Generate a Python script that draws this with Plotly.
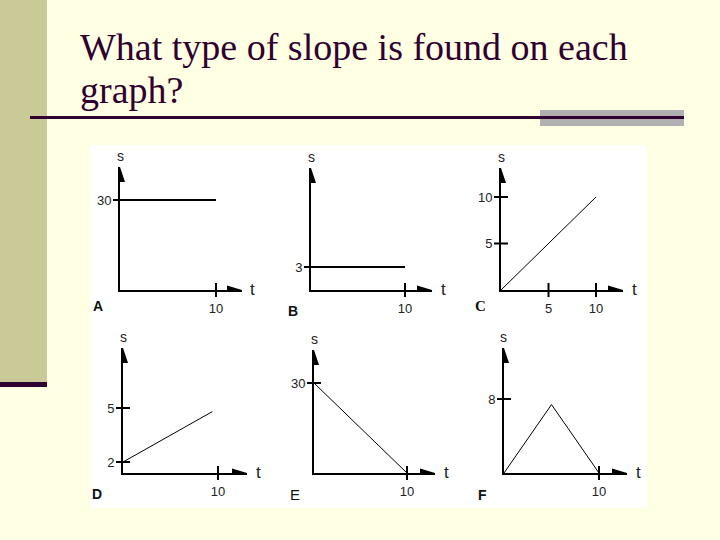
import plotly.graph_objects as go

W, H = 720, 540

# ---------------- data ----------------
panels = ["A", "B", "C", "D", "E", "F"]

t_A = [0, 10];      s_A = [30, 30]
t_B = [0, 10];      s_B = [3, 3]
t_C = [0, 10];      s_C = [0, 10]
t_D = [0, 9.4];     s_D = [2, 4.8]
t_E = [0, 10];      s_E = [30, 0]
t_F = [0, 5, 10];   s_F = [0, 7.4, 0]

xticks_A = [10];     yticks_A = [30]
xticks_B = [10];     yticks_B = [3]
xticks_C = [5, 10];  yticks_C = [5, 10]
xticks_D = [10];     yticks_D = [2, 5]
xticks_E = [10];     yticks_E = [30]
xticks_F = [10];     yticks_F = [8]

title_lines = ["What type of slope is found on each", "graph?"]

series = {
    "A": (t_A, s_A, xticks_A, yticks_A),
    "B": (t_B, s_B, xticks_B, yticks_B),
    "C": (t_C, s_C, xticks_C, yticks_C),
    "D": (t_D, s_D, xticks_D, yticks_D),
    "E": (t_E, s_E, xticks_E, yticks_E),
    "F": (t_F, s_F, xticks_F, yticks_F),
}

# ---------------- layout geometry (pixels) ----------------
geom = {
    "A": dict(ox=120, oy=290, sx=9.6, sy=3.0,  y0=0,    xtip=242, ytip=167, lab=(-22, 16), lw=2),
    "B": dict(ox=311, oy=290, sx=9.4, sy=7.67, y0=0,    xtip=432, ytip=168, lab=(-18, 21), lw=2),
    "C": dict(ox=501, oy=290, sx=9.5, sy=9.3,  y0=0,    xtip=623, ytip=168, lab=(-21, 16), lw=1),
    "D": dict(ox=123, oy=473, sx=9.5, sy=18.0, y0=1.39, xtip=247, ytip=348, lab=(-26, 21), lw=1),
    "E": dict(ox=314, oy=473, sx=9.3, sy=3.0,  y0=0,    xtip=435, ytip=350, lab=(-19, 21), lw=1),
    "F": dict(ox=504, oy=473, sx=9.5, sy=9.25, y0=0,    xtip=627, ytip=348, lab=(-21, 22), lw=1),
}

BG = "#FFFFE3"
OLIVE = "#CACA98"
MAROON = "#300030"
GRAY = "#B0B0B0"
TICKFONT = dict(family="Liberation Sans, Arial, sans-serif", size=13, color="#222222")


def fx(p):
    return p / W


def fy(p):
    return 1 - p / H


fig = go.Figure()
shapes = []
annotations = []

# slide decorations
shapes += [
    dict(type="rect", xref="paper", yref="paper", x0=fx(0), x1=fx(47), y0=fy(382), y1=fy(0),
         fillcolor=OLIVE, line_width=0, layer="below"),
    dict(type="rect", xref="paper", yref="paper", x0=fx(0), x1=fx(47), y0=fy(387), y1=fy(382),
         fillcolor=MAROON, line_width=0, layer="below"),
    dict(type="rect", xref="paper", yref="paper", x0=fx(540), x1=fx(684), y0=fy(126), y1=fy(110),
         fillcolor=GRAY, line_width=0, layer="below"),
    dict(type="rect", xref="paper", yref="paper", x0=fx(30), x1=fx(684), y0=fy(119), y1=fy(116),
         fillcolor=MAROON, line_width=0, layer="below"),
    dict(type="rect", xref="paper", yref="paper", x0=fx(90), x1=fx(647), y0=fy(508), y1=fy(145),
         fillcolor="white", line_width=0, layer="below"),
]

for line_text, ymid in zip(title_lines, [47, 90]):
    annotations.append(dict(
        xref="paper", yref="paper", x=fx(78), y=fy(ymid), xanchor="left", yanchor="middle",
        text=line_text, showarrow=False, align="left",
        font=dict(family="Liberation Serif, Times New Roman, serif", size=38, color=MAROON),
    ))

letter_fonts = {
    "A": dict(family="Liberation Sans, Arial", size=14, color="#111", weight="bold"),
    "B": dict(family="Liberation Sans, Arial", size=14, color="#111", weight="bold"),
    "C": dict(family="Liberation Serif, Times New Roman", size=15, color="#111", weight="bold"),
    "D": dict(family="Liberation Sans, Arial", size=14, color="#111", weight="bold"),
    "E": dict(family="Liberation Sans, Arial", size=15, color="#111"),
    "F": dict(family="Liberation Sans, Arial", size=14, color="#111", weight="bold"),
}

layout_axes = {}
for i, name in enumerate(panels, start=1):
    g = geom[name]
    t, s, xt, yt = series[name]
    xr = [0, (g["xtip"] - g["ox"]) / g["sx"]]
    yr = [g["y0"], g["y0"] + (g["oy"] - g["ytip"]) / g["sy"]]
    xa = "x" if i == 1 else f"x{i}"
    ya = "y" if i == 1 else f"y{i}"
    layout_axes["xaxis" if i == 1 else f"xaxis{i}"] = dict(
        domain=[fx(g["ox"]), fx(g["xtip"])], range=xr, anchor=ya,
        showgrid=False, zeroline=False, showline=True, linecolor="black", linewidth=2,
        tickvals=xt, ticktext=[str(v) for v in xt], ticks="outside", ticklen=5,
        tickcolor="rgba(0,0,0,0)", tickfont=TICKFONT, fixedrange=True,
    )
    layout_axes["yaxis" if i == 1 else f"yaxis{i}"] = dict(
        domain=[fy(g["oy"]), fy(g["ytip"])], range=yr, anchor=xa,
        showgrid=False, zeroline=False, showline=True, linecolor="black", linewidth=2,
        tickvals=yt, ticktext=[str(v) for v in yt], ticks="outside", ticklen=4,
        tickcolor="rgba(0,0,0,0)", tickfont=TICKFONT, fixedrange=True,
    )
    # data line
    fig.add_trace(go.Scatter(x=t, y=s, mode="lines", xaxis=xa, yaxis=ya,
                             line=dict(color="black", width=g["lw"]), showlegend=False,
                             hoverinfo="skip", cliponaxis=False))
    # crossing tick marks
    fig.add_trace(go.Scatter(x=xt, y=[yr[0]] * len(xt), mode="markers", xaxis=xa, yaxis=ya,
                             marker=dict(symbol="line-ns-open", size=10, color="black",
                                         line=dict(color="black", width=2)),
                             showlegend=False, hoverinfo="skip", cliponaxis=False))
    fig.add_trace(go.Scatter(x=[0] * len(yt), y=yt, mode="markers", xaxis=xa, yaxis=ya,
                             marker=dict(symbol="line-ew-open", size=10, color="black",
                                         line=dict(color="black", width=2)),
                             showlegend=False, hoverinfo="skip", cliponaxis=False))
    # arrowheads
    shapes.append(dict(type="path", xref=xa, yref=ya, xsizemode="pixel", ysizemode="pixel",
                       xanchor=0, yanchor=yr[1], path="M-5,-15 L5,-15 L0,0 Z",
                       fillcolor="black", line_width=0))
    shapes.append(dict(type="path", xref=xa, yref=ya, xsizemode="pixel", ysizemode="pixel",
                       xanchor=xr[1], yanchor=yr[0], path="M-15,-4.5 L-15,4.5 L0,0 Z",
                       fillcolor="black", line_width=0))
    # axis names
    annotations.append(dict(xref="paper", yref="paper", x=fx(g["ox"]), y=fy(g["ytip"] - 11),
                            text="s", showarrow=False, xanchor="center", yanchor="middle",
                            font=dict(family="Liberation Sans, Arial", size=14, color="#222")))
    annotations.append(dict(xref="paper", yref="paper", x=fx(g["xtip"] + 11), y=fy(g["oy"] - 1),
                            text="t", showarrow=False, xanchor="center", yanchor="middle",
                            font=dict(family="Liberation Sans, Arial", size=17, color="#222")))
    # panel letter
    annotations.append(dict(xref="paper", yref="paper", x=fx(g["ox"] + g["lab"][0]),
                            y=fy(g["oy"] + g["lab"][1]), text=name, showarrow=False,
                            xanchor="center", yanchor="middle", font=letter_fonts[name]))

fig.update_layout(
    width=W, height=H, margin=dict(l=0, r=0, t=0, b=0),
    paper_bgcolor=BG, plot_bgcolor="rgba(0,0,0,0)",
    shapes=shapes, annotations=annotations, showlegend=False,
    **layout_axes,
)

fig.write_html("out.html", config={"displayModeBar": False},
               post_script="document.body.style.margin='0';")
